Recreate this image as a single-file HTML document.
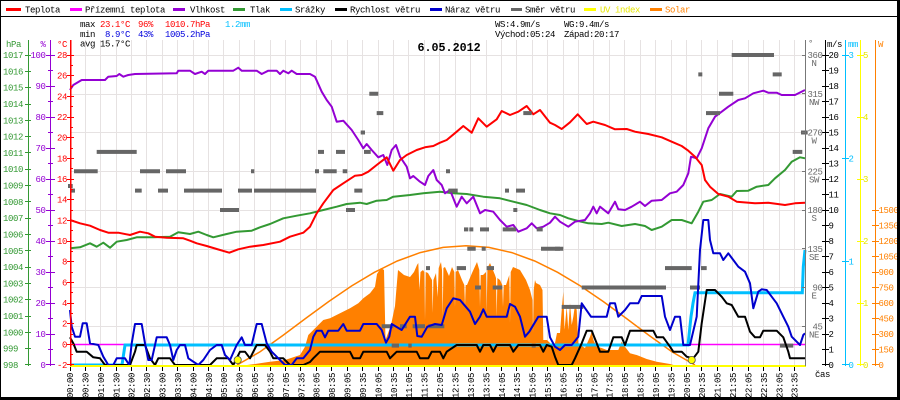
<!DOCTYPE html>
<html><head><meta charset="utf-8"><style>
html,body{margin:0;padding:0;background:#fff}
svg{display:block}
text{font-family:"Liberation Mono",monospace;font-size:9px;letter-spacing:-0.4px}
.b{font-weight:bold;font-size:11.7px;letter-spacing:0}
</style></head><body>
<svg width="900" height="400" viewBox="0 0 900 400" xmlns="http://www.w3.org/2000/svg">
<rect width="900" height="400" fill="#fff"/>
<!-- grid -->
<g stroke="#e6e2e2" stroke-width="1" shape-rendering="crispEdges">
<path d="M85.5 40V365M100.5 40V365M116.5 40V365M131.5 40V365M146.5 40V365M162.5 40V365M177.5 40V365M193.5 40V365M208.5 40V365M223.5 40V365M239.5 40V365M254.5 40V365M270.5 40V365M285.5 40V365M300.5 40V365M316.5 40V365M331.5 40V365M347.5 40V365M362.5 40V365M378.5 40V365M393.5 40V365M408.5 40V365M424.5 40V365M439.5 40V365M455.5 40V365M470.5 40V365M486.5 40V365M501.5 40V365M516.5 40V365M532.5 40V365M547.5 40V365M563.5 40V365M578.5 40V365M593.5 40V365M609.5 40V365M624.5 40V365M640.5 40V365M655.5 40V365M671.5 40V365M686.5 40V365M701.5 40V365M717.5 40V365M732.5 40V365M748.5 40V365M763.5 40V365M779.5 40V365M794.5 40V365"/>
<path d="M70 55.5H806M70 94.5H806M70 132.5H806M70 171.5H806M70 210.5H806M70 249.5H806M70 287.5H806M70 326.5H806"/>
</g>
<!-- solar fill -->
<polygon fill="#ff8000" points="238,366 247,365 255,364 270,361.7 285,360 300,355 305,346.7 308.3,335 313.3,330 318.3,325 323.3,320 330,318.3 340,313.3 350,308.3 358.3,303.3 363.3,298.3 370,293.3 375,286.7 377,274 381,268 384,270 385.5,340 391,325 395,306 398,270 404,275 410,277 414,272 417,265 418.3,263 419.5,290 420.5,272 423,270 424.3,272 425,320 425.7,272 428,273 432,280 432.7,313 433.4,280 436,273 437.7,297 438.7,268 441,262 442,270 442.7,317 443.4,268 445,267 449,276 452,267 454.3,272 455,307 455.7,272 458,270 462,280 464.3,285 465,306 465.7,285 467,285 472,273 477,262 479.3,270 480,307 480.7,275 483,275 486,272 486.7,313 487.4,268 490,263 495,275 496,278 496.7,317 497.4,278 500,280 502.3,285 503,307 503.7,285 506,285 509.3,275 510,323 510.7,272 513,267 520,270 526,280 530,290 532.5,300 533,333 533.7,290 535,280 536,283 540,285 542.5,290 543.3,340 547,340 550,343 551.7,348 555,343 557,333 560,333 561.7,310 563.3,291.7 564.5,330 566.7,306.7 568.3,330 570,303 571.7,325 573.3,316.7 575,305 576.7,310 578.3,343 580,345 585,348 590,336.7 591.7,331.7 593.3,340 596.7,346.7 601.7,348 606.7,350 618.3,350 621.7,341.7 625,346.7 630,353.3 636.7,355 646.7,359 656.7,361.7 670,364 677,366"/>
<polyline fill="none" stroke="#ff8000" stroke-width="1.5" points="237,365 259.9,351.9 282.8,335.5 305.7,318.4 328.6,301.6 351.5,286 374.4,272.3 397.3,261 420.2,252.6 443.1,247.4 466,245.7 488.9,247.4 511.8,252.6 534.7,261 557.6,272.3 580.5,286 603.4,301.6 626.3,318.4 649.2,335.5 672.1,351.9 695,365"/>
<!-- magenta & cyan -->
<path d="M70 344.5H805" stroke="#ff00ff" stroke-width="1.5"/>
<polyline fill="none" stroke="#00bfff" stroke-width="3" points="70,365 122,365 125,345 688,345 691,316.7 693,303.3 695,292.7 802.3,292.7 803.3,266.7 805,250"/>
<!-- pressure -->
<polyline fill="none" stroke="#339933" stroke-width="2" stroke-linejoin="round" points="70,248.3 80,247.3 90,243.3 96.7,246.7 103.3,242.7 110,247.7 116.7,241.7 126.7,240 136.7,237.3 153.3,237.3 170,236.7 178.3,232.3 190,234 198.3,231.7 206.7,235 213.3,237.3 226.7,234 236.7,231.7 251.7,230.7 260,227.3 270,224 283.3,218.3 296.7,215.7 310,213.3 323.3,210 336.7,206.7 346.7,204 360,202.7 366.7,204 376.7,200.7 386.7,200 393.3,196.7 410,195 423.3,193.3 440,191.7 453.3,193.3 466.7,194 483.3,196.7 500,198.3 513.3,201.7 526.7,205 540,210 550,213.3 560,215 568.3,218.3 578.3,221 588.3,223.3 601.7,224 608.3,222.7 621.7,226 635,224 645,226 651.7,230 661.7,226.7 671.7,220 681.7,220 691.7,223.3 698.3,211.7 703.3,201.7 711.7,200 720,194 731.7,196.7 736.7,191 748.3,190.7 756.7,186.7 768.3,185 775,178.3 785,170 791.7,161.7 800,157.3 805,158.3"/>
<!-- humidity -->
<polyline fill="none" stroke="#9400d3" stroke-width="2" stroke-linejoin="round" points="70,90 73.3,85 81.7,80 105,80 108.3,76.7 116.7,76 119.3,74 123.3,76.7 128.3,75 135,74 176.7,73.3 178.3,70.7 190,70.7 195,74 201.7,71.7 205,74 208.3,70.7 233.3,70.7 238.3,67.7 241.7,70.7 256.7,70.7 261.7,74 268.3,70.7 276.7,70.7 280,74 283.3,70.7 288.3,73.3 291.7,70.7 296.7,74 310,74 315,76.7 321.7,91.7 326.7,100 331.7,106.7 336.7,121.7 343.3,120.7 351.7,130 358.3,140 363.3,148.3 366.7,144 371.7,150 378.3,157.3 383.3,155 387.3,165 391.7,150 396,145 400,156.7 406.7,166.7 410,178.3 413.3,176 420,181.7 425,185 428.3,176 433.3,170 436.7,180 441.7,185 445,193.3 450,190 456.7,206.7 461.7,196.7 466.7,203.3 473.3,196.7 480,213.3 485,210 493.3,211.7 500,220 506.7,226.7 513.3,225 518.3,231.7 526.7,228.3 531.7,223.3 536.7,228.3 543.3,226.7 550,222.7 555,216.7 560,221.7 568.3,226.7 575,221.7 585,220 590,213.3 593.3,206.7 596.7,213.3 600,206.7 608.3,213.3 615,201.7 618.3,209.3 625,210 631.7,206.7 640,201.7 645,206 651.7,200.7 661.7,200 670,193.3 676.7,191.7 683.3,185 688.3,173.3 691,156.7 696.7,158.3 701.7,148.3 708.3,128.3 715,116.7 721.7,111.7 728.3,106.7 738.3,100 745,98.3 753.3,93.3 763.3,90.7 768.3,92.7 776.7,92.7 781.7,95 795,95 805,90"/>
<!-- temperature -->
<polyline fill="none" stroke="#ff0000" stroke-width="2" stroke-linejoin="round" points="70,220 80,223.3 90,225.7 100,230 108.3,232.7 118.3,232.7 130,235 140,231.7 148.3,233.3 155,236.7 166.7,237.7 183.3,238.3 190,240.7 196.7,243.3 206.7,246 216.7,249 229.3,252.7 238.3,249.3 250,246.7 263.3,245 280,241.7 290,236.7 303.3,232.7 310,226.7 316.7,213.3 323.3,203.3 333.3,190 343.3,183.3 355,175.7 361.7,175 368.3,171.7 376.7,165 386.7,157.3 393.3,170.7 400,160 406.7,155 416.7,150 425,147.3 433.3,146 440,142.7 446.7,140 456.7,131.7 463.3,126 471.7,132.7 478.3,118.3 486.7,126.7 496.7,119.3 501.7,111 510,115 518.3,111.7 526.7,106 533.3,114.3 540,110 550,122.7 555,125 561.7,129 570,122.3 577.7,114.3 586.7,124 593.3,121.7 605,125 615,129.3 626.7,129 635,131.7 648.3,134 661.7,137.3 671.7,141.7 681.7,146 688.3,150.7 695,156.7 701.7,165 705,180 710,186.7 718.3,194 728.3,196.7 736.7,201.7 755,203.3 768.3,202.7 785,205 795,203.3 805,202.7"/>
<!-- wind direction bars -->
<g fill="#666">
<rect x="96.7" y="149.9" width="40" height="4"/><rect x="74" y="169.25" width="23.7" height="4"/><rect x="140" y="169.25" width="20" height="4"/><rect x="166" y="169.25" width="20" height="4"/><rect x="251" y="169.25" width="3.3" height="4"/><rect x="315" y="169.25" width="4" height="4"/><rect x="318" y="149.9" width="6" height="4"/><rect x="70" y="188.6" width="5" height="4"/><rect x="68" y="184" width="4.7" height="4"/><rect x="135" y="188.6" width="6.7" height="4"/><rect x="158" y="188.6" width="10" height="4"/><rect x="184" y="188.6" width="38" height="4"/><rect x="238" y="188.6" width="14" height="4"/><rect x="254" y="188.6" width="62" height="4"/><rect x="220" y="208" width="19" height="4"/>
<rect x="369.3" y="91.75" width="9" height="4"/><rect x="376.7" y="111.1" width="6.6" height="4"/><rect x="360.7" y="130.5" width="4.3" height="4"/><rect x="336" y="149.9" width="9" height="4"/><rect x="364" y="149.9" width="6.7" height="4"/><rect x="323.3" y="169.25" width="13.4" height="4"/><rect x="342.7" y="169.25" width="4.6" height="4"/><rect x="446" y="169.25" width="4" height="4"/><rect x="310" y="188.6" width="6" height="4"/><rect x="354.3" y="188.6" width="8" height="4"/><rect x="448.3" y="188.6" width="9.4" height="4"/><rect x="505" y="188.6" width="4" height="4"/><rect x="516" y="188.6" width="9" height="4"/><rect x="523.3" y="111.1" width="8.4" height="4"/><rect x="346" y="208" width="9" height="4"/><rect x="513.3" y="208" width="4" height="4"/><rect x="464" y="227.4" width="4.3" height="4"/><rect x="469.3" y="227.4" width="4" height="4"/><rect x="480" y="227.4" width="9" height="4"/><rect x="502.7" y="227.4" width="13.3" height="4"/><rect x="536.7" y="227.4" width="6" height="4"/><rect x="467.3" y="246.75" width="8.4" height="4"/><rect x="481.7" y="246.75" width="4" height="4"/><rect x="541" y="246.75" width="19" height="4"/><rect x="426" y="266.1" width="4" height="4"/><rect x="456.7" y="266.1" width="9.3" height="4"/><rect x="486.7" y="266.1" width="7.3" height="4"/><rect x="475" y="285.5" width="6" height="4"/><rect x="492.7" y="285.5" width="9.6" height="4"/><rect x="381.7" y="324.25" width="11.6" height="4"/><rect x="400" y="324.25" width="6.7" height="4"/><rect x="412.7" y="324.25" width="12.3" height="4"/><rect x="428.3" y="324.25" width="16" height="4"/><rect x="391.7" y="343.6" width="7.3" height="4"/><rect x="408.3" y="343.6" width="3.4" height="4"/><rect x="531.7" y="343.6" width="4" height="4"/>
<rect x="731.7" y="53" width="42.3" height="4"/><rect x="698.3" y="72.4" width="4" height="4"/><rect x="772.7" y="72.4" width="9" height="4"/><rect x="719" y="91.75" width="14.3" height="4"/><rect x="706" y="111.1" width="14" height="4"/><rect x="801" y="130.5" width="6.7" height="4"/><rect x="792.7" y="149.9" width="9.6" height="4"/><rect x="555" y="246.75" width="8.3" height="4"/><rect x="665" y="266.1" width="26.7" height="4"/><rect x="701" y="266.1" width="5.7" height="4"/><rect x="581.7" y="285.5" width="84.3" height="4"/><rect x="690" y="285.5" width="10" height="4"/><rect x="561.7" y="304.9" width="21.6" height="4"/><rect x="780" y="343.6" width="13.3" height="4"/>
</g>
<!-- wind speed -->
<polyline fill="none" stroke="#000" stroke-width="2" stroke-linejoin="round" points="70,337.3 73.3,343.3 76.7,351.7 86.7,351.7 93.3,357.3 100,358.3 105,365 130,365 135,351.7 136.7,345 145,345 150,358.3 155,365 158.3,358.3 170,358.3 175,365 210,365 216.7,358.3 228.3,358.3 233.3,365 240,351.7 245,351.7 250,358.3 256.7,345 265,345 270,351.7 273.3,358.3 283.3,358.3 290,365 303.3,365 310,362 313.3,358.3 320,351.7 350,351.7 353.3,358.3 360,358.3 363.3,351.7 386.7,351.7 390,358.3 396.7,351.7 416.7,351.7 420,358.3 428.3,358.3 431.7,351.7 440,351.7 443.3,358.3 446.7,351.7 456.7,345 476.7,345 480,351.7 483.3,345 490,345 493.3,351.7 496.7,345 510,345 513.3,351.7 518.3,345 540,345 543.3,351.7 546.7,345 551.7,346.7 555,356.7 558.3,365 571.7,365 575,358.3 581.7,343.3 586.7,330.7 591.7,330.7 596.7,343.3 600,351.7 608.3,351.7 613.3,337.3 621.7,337.3 625,345 630,330.7 653.3,330.7 656.7,337.3 663.3,337.3 670,346.7 673.3,351.7 681.7,351.7 686.7,356.7 693.3,358.3 698.3,351.7 701.7,323.3 706.7,290 715,290 721.7,296.7 726.7,303.3 731.7,305 738.3,316.7 745,316.7 750,331.7 755,337.3 760,337.3 763.3,330.7 776.7,330.7 783.3,337.3 788.3,351.7 790,358.3 805,358.3"/>
<!-- gust -->
<polyline fill="none" stroke="#0000cd" stroke-width="2" stroke-linejoin="round" points="70,310 71.7,326.7 75,336.7 80,336.7 82.7,323.3 86.7,323.3 90,343.3 98.3,345 103.3,356.7 108.3,365 113.3,365 116.7,358.3 125,358.3 129.3,365 131.7,343.3 135,324 141.7,324 145,343.3 148.3,360 151.7,360 156.7,337.3 166.7,337.3 170,345 173.3,360 176.7,350 180,345 185,345 188.3,358.3 198.3,365 203.3,360 210,350 216.7,345 221.7,345 225,355 230,360 236.7,345 241.7,337.3 245,345 251.7,345 256.7,324 261.7,324 266.7,343.3 271.7,351.7 278.3,358.3 285,365 291.7,365 296.7,358.3 303.3,358.3 310,350 313.3,336.7 316.7,330.7 321.7,330.7 325,337.3 328.3,330.7 338.3,330.7 343.3,324 346.7,330.7 360,330.7 363.3,324 376.7,324 381.7,330 386,342.7 389.3,336.7 391.7,324 401.7,330 410,316.7 415,316.7 417.3,336 421.7,336.7 427.3,326.7 435,324 441.7,325 446.7,308.3 453.3,298.3 460,300 470,311.7 475,324 480,316.7 483.3,309.3 486.7,316.7 506.7,316.7 510,304 515,306.7 520,316.7 525,336.7 529.3,331.7 538.3,316.7 546.7,316.7 550,337.3 555,346.7 560,350 565,345 571.7,345 578.3,336.7 581.7,303.3 591,316.7 606.7,316.7 610,303.3 615,303.3 618.3,316.7 625,310 630,303.3 638.3,303.3 641.7,296 661.7,296 665,316.7 670,330 675,316.7 680,316.7 683.3,345 690,345 696.7,316.7 700,250 703.3,220 708.3,220 710,240 713.3,253.3 720,253.3 723.3,260 728.3,253.3 733.3,260 738.3,266.7 745,271.7 750,283.3 753.3,308.3 758.3,291.7 761.7,289.3 766.7,290 771.7,296.7 776.7,303.3 783.3,316.7 788.3,326.7 791.7,336.7 800,345 803.3,335 805,333.3"/>
<!-- UV baseline & sun markers -->
<rect x="70" y="365" width="736" height="2" fill="#ffff00"/>
<circle cx="237.7" cy="360" r="3.6" fill="#ffff00" stroke="#555" stroke-width="0.8"/>
<circle cx="691.7" cy="360" r="3.6" fill="#ffff00" stroke="#555" stroke-width="0.8"/>
<!-- left axes -->
<g shape-rendering="crispEdges">
<path d="M28.5 40V366" stroke="#339933"/>
<path d="M25 55.5h6M25 71.5h6M25 87.5h6M25 104.5h6M25 120.5h6M25 136.5h6M25 152.5h6M25 169.5h6M25 185.5h6M25 201.5h6M25 218.5h6M25 234.5h6M25 250.5h6M25 267.5h6M25 283.5h6M25 299.5h6M25 316.5h6M25 332.5h6M25 348.5h6M25 364.5h6" stroke="#339933"/>
<path d="M50.5 40V366" stroke="#9400d3"/>
<path d="M46 55.5h9M46 86.5h9M46 117.5h9M46 148.5h9M46 179.5h9M46 210.5h9M46 241.5h9M46 272.5h9M46 303.5h9M46 334.5h9M46 364.5h9M48 70.5h5M48 101.5h5M48 132.5h5M48 163.5h5M48 194.5h5M48 225.5h5M48 256.5h5M48 287.5h5M48 318.5h5M48 349.5h5" stroke="#9400d3"/>
<path d="M70.5 40V366" stroke="#ff0000" stroke-width="1.5"/>
<path d="M67 55.5h7M67 75.5h7M67 96.5h7M67 117.5h7M67 137.5h7M67 158.5h7M67 179.5h7M67 199.5h7M67 220.5h7M67 241.5h7M67 261.5h7M67 282.5h7M67 303.5h7M67 323.5h7M67 344.5h7M67 364.5h7M70 65.5h3M70 86.5h3M70 106.5h3M70 127.5h3M70 148.5h3M70 168.5h3M70 189.5h3M70 210.5h3M70 230.5h3M70 251.5h3M70 272.5h3M70 292.5h3M70 313.5h3M70 334.5h3M70 354.5h3" stroke="#ff0000"/>
</g>
<g fill="#339933">
<text x="6" y="47">hPa</text>
<text x="3" y="58">1017</text><text x="3" y="74.3">1016</text><text x="3" y="90.6">1015</text><text x="3" y="107">1014</text><text x="3" y="123.3">1013</text><text x="3" y="139.6">1012</text><text x="3" y="155.9">1011</text><text x="3" y="172.2">1010</text><text x="3" y="188.5">1009</text><text x="3" y="204.8">1008</text><text x="3" y="221.2">1007</text><text x="3" y="237.5">1006</text><text x="3" y="253.8">1005</text><text x="3" y="270.1">1004</text><text x="3" y="286.4">1003</text><text x="3" y="302.7">1002</text><text x="3" y="319.1">1001</text><text x="3" y="335.4">1000</text><text x="3" y="351.7">999</text><text x="3" y="368">998</text>
</g>
<g fill="#9400d3" text-anchor="end">
<text x="45.5" y="47">%</text>
<text x="45.5" y="58">100</text><text x="45.5" y="89">90</text><text x="45.5" y="120">80</text><text x="45.5" y="151">70</text><text x="45.5" y="182">60</text><text x="45.5" y="213">50</text><text x="45.5" y="244">40</text><text x="45.5" y="275">30</text><text x="45.5" y="306">20</text><text x="45.5" y="337">10</text><text x="45.5" y="368">0</text>
</g>
<g fill="#ff0000" text-anchor="end">
<text x="67" y="47">°C</text>
<text x="67" y="58">28</text><text x="67" y="78.7">26</text><text x="67" y="99.3">24</text><text x="67" y="120">22</text><text x="67" y="140.7">20</text><text x="67" y="161.3">18</text><text x="67" y="182">16</text><text x="67" y="202.7">14</text><text x="67" y="223.3">12</text><text x="67" y="244">10</text><text x="67" y="264.7">8</text><text x="67" y="285.3">6</text><text x="67" y="306">4</text><text x="67" y="326.7">2</text><text x="67" y="347.3">0</text><text x="67" y="368">-2</text>
</g>
<!-- right axes -->
<g shape-rendering="crispEdges">
<path d="M805.5 40V366" stroke="#777"/>
<path d="M802 55.5h4M802 93.5h4M802 132.5h4M802 171.5h4M802 210.5h4M802 248.5h4M802 287.5h4M802 326.5h4" stroke="#777"/>
<path d="M825.5 40V366" stroke="#000"/>
<path d="M822 55.5h7M822 70.5h7M822 86.5h7M822 101.5h7M822 117.5h7M822 132.5h7M822 148.5h7M822 163.5h7M822 179.5h7M822 194.5h7M822 210.5h7M822 225.5h7M822 241.5h7M822 256.5h7M822 272.5h7M822 287.5h7M822 303.5h7M822 318.5h7M822 334.5h7M822 349.5h7M822 364.5h7" stroke="#000"/>
<path d="M845.5 40V366" stroke="#00bfff"/>
<path d="M842 55.5h7M842 158.5h7M842 261.5h7M842 364.5h7" stroke="#00bfff"/>
<path d="M860.5 40V366" stroke="#ffff00"/>
<path d="M857 55.5h7M857 117.5h7M857 179.5h7M857 241.5h7M857 303.5h7M857 364.5h7" stroke="#ffff00"/>
<path d="M875.5 40V366" stroke="#ff8000"/>
<path d="M872 210.5h7M872 225.5h7M872 241.5h7M872 256.5h7M872 272.5h7M872 287.5h7M872 303.5h7M872 318.5h7M872 334.5h7M872 349.5h7M872 364.5h7" stroke="#ff8000"/>
</g>
<g fill="#666">
<text x="808" y="46">°</text>
<g text-anchor="end"><text x="822.5" y="58">360</text><text x="822.5" y="96.8">315</text><text x="822.5" y="135.5">270</text><text x="822.5" y="174.3">225</text><text x="822.5" y="213">180</text><text x="822.5" y="251.8">135</text><text x="822.5" y="290.5">90</text><text x="822.5" y="329.3">45</text></g>
<g text-anchor="middle"><text x="814" y="66">N</text><text x="814" y="104.8">NW</text><text x="814" y="143.5">W</text><text x="814" y="182.3">SW</text><text x="814" y="221">S</text><text x="814" y="259.8">SE</text><text x="814" y="298.5">E</text><text x="814" y="337.3">NE</text></g>
</g>
<g fill="#000">
<text x="827" y="47">m/s</text>
<text x="828.5" y="58">20</text><text x="828.5" y="73.5">19</text><text x="828.5" y="89">18</text><text x="828.5" y="104.5">17</text><text x="828.5" y="120">16</text><text x="828.5" y="135.5">15</text><text x="828.5" y="151">14</text><text x="828.5" y="166.5">13</text><text x="828.5" y="182">12</text><text x="828.5" y="197.5">11</text><text x="828.5" y="213">10</text><text x="828.5" y="228.5">9</text><text x="828.5" y="244">8</text><text x="828.5" y="259.5">7</text><text x="828.5" y="275">6</text><text x="828.5" y="290.5">5</text><text x="828.5" y="306">4</text><text x="828.5" y="321.5">3</text><text x="828.5" y="337">2</text><text x="828.5" y="352.5">1</text><text x="828.5" y="368">0</text>
<text x="815" y="377">čas</text>
</g>
<g fill="#00bfff">
<text x="848" y="47">mm</text>
<text x="848.5" y="58">3</text><text x="848.5" y="161.3">2</text><text x="848.5" y="264.7">1</text><text x="848.5" y="368">0</text>
</g>
<g fill="#e6e600">
<text x="863" y="58">5</text><text x="863" y="120">4</text><text x="863" y="182">3</text><text x="863" y="244">2</text><text x="863" y="306">1</text><text x="863" y="368">0</text>
</g>
<g fill="#ff8000">
<text x="878" y="47">W</text>
<text x="878.5" y="213">1500</text><text x="878.5" y="228.5">1350</text><text x="878.5" y="244">1200</text><text x="878.5" y="259.5">1050</text><text x="878.5" y="275">900</text><text x="878.5" y="290.5">750</text><text x="878.5" y="306">600</text><text x="878.5" y="321.5">450</text><text x="878.5" y="337">300</text><text x="878.5" y="352.5">150</text><text x="878.5" y="368">0</text>
</g>
<!-- bottom ticks -->
<path shape-rendering="crispEdges" stroke="#000" d="M70.5 367V371M85.5 367V371M100.5 367V371M116.5 367V371M131.5 367V371M146.5 367V371M162.5 367V371M177.5 367V371M193.5 367V371M208.5 367V371M223.5 367V371M239.5 367V371M254.5 367V371M270.5 367V371M285.5 367V371M300.5 367V371M316.5 367V371M331.5 367V371M347.5 367V371M362.5 367V371M378.5 367V371M393.5 367V371M408.5 367V371M424.5 367V371M439.5 367V371M455.5 367V371M470.5 367V371M486.5 367V371M501.5 367V371M516.5 367V371M532.5 367V371M547.5 367V371M563.5 367V371M578.5 367V371M593.5 367V371M609.5 367V371M624.5 367V371M640.5 367V371M655.5 367V371M671.5 367V371M686.5 367V371M701.5 367V371M717.5 367V371M732.5 367V371M748.5 367V371M763.5 367V371M779.5 367V371M794.5 367V371"/>
<g fill="#000">
<text transform="translate(73,398) rotate(-90)">00:00</text>
<text transform="translate(88.4,398) rotate(-90)">00:30</text>
<text transform="translate(103.8,398) rotate(-90)">01:00</text>
<text transform="translate(119.3,398) rotate(-90)">01:30</text>
<text transform="translate(134.7,398) rotate(-90)">02:00</text>
<text transform="translate(150.1,398) rotate(-90)">02:30</text>
<text transform="translate(165.5,398) rotate(-90)">03:00</text>
<text transform="translate(180.9,398) rotate(-90)">03:30</text>
<text transform="translate(196.4,398) rotate(-90)">04:00</text>
<text transform="translate(211.8,398) rotate(-90)">04:30</text>
<text transform="translate(227.2,398) rotate(-90)">05:00</text>
<text transform="translate(242.6,398) rotate(-90)">05:30</text>
<text transform="translate(258,398) rotate(-90)">06:05</text>
<text transform="translate(273.5,398) rotate(-90)">06:35</text>
<text transform="translate(288.9,398) rotate(-90)">07:05</text>
<text transform="translate(304.3,398) rotate(-90)">07:35</text>
<text transform="translate(319.7,398) rotate(-90)">08:05</text>
<text transform="translate(335.1,398) rotate(-90)">08:35</text>
<text transform="translate(350.6,398) rotate(-90)">09:05</text>
<text transform="translate(366,398) rotate(-90)">09:35</text>
<text transform="translate(381.4,398) rotate(-90)">10:05</text>
<text transform="translate(396.8,398) rotate(-90)">10:35</text>
<text transform="translate(412.2,398) rotate(-90)">11:05</text>
<text transform="translate(427.7,398) rotate(-90)">11:35</text>
<text transform="translate(443.1,398) rotate(-90)">12:05</text>
<text transform="translate(458.5,398) rotate(-90)">12:35</text>
<text transform="translate(473.9,398) rotate(-90)">13:05</text>
<text transform="translate(489.3,398) rotate(-90)">13:35</text>
<text transform="translate(504.8,398) rotate(-90)">14:05</text>
<text transform="translate(520.2,398) rotate(-90)">14:35</text>
<text transform="translate(535.6,398) rotate(-90)">15:05</text>
<text transform="translate(551,398) rotate(-90)">15:35</text>
<text transform="translate(566.4,398) rotate(-90)">16:05</text>
<text transform="translate(581.9,398) rotate(-90)">16:35</text>
<text transform="translate(597.3,398) rotate(-90)">17:05</text>
<text transform="translate(612.7,398) rotate(-90)">17:35</text>
<text transform="translate(628.1,398) rotate(-90)">18:05</text>
<text transform="translate(643.5,398) rotate(-90)">18:35</text>
<text transform="translate(659,398) rotate(-90)">19:05</text>
<text transform="translate(674.4,398) rotate(-90)">19:35</text>
<text transform="translate(689.8,398) rotate(-90)">20:05</text>
<text transform="translate(705.2,398) rotate(-90)">20:35</text>
<text transform="translate(720.6,398) rotate(-90)">21:05</text>
<text transform="translate(736.1,398) rotate(-90)">21:35</text>
<text transform="translate(751.5,398) rotate(-90)">22:05</text>
<text transform="translate(766.9,398) rotate(-90)">22:35</text>
<text transform="translate(782.3,398) rotate(-90)">23:05</text>
<text transform="translate(797.7,398) rotate(-90)">23:35</text>
</g>
<!-- legend -->
<rect x="6" y="8" width="15" height="3" fill="#ff0000"/><text x="25" y="12.5">Teplota</text>
<rect x="70" y="8" width="12" height="3" fill="#ff00ff"/><text x="85" y="12.5">Přízemní teplota</text>
<rect x="173" y="8" width="12" height="3" fill="#9400d3"/><text x="190" y="12.5">Vlhkost</text>
<rect x="233" y="8" width="12" height="3" fill="#339933"/><text x="250" y="12.5">Tlak</text>
<rect x="280" y="8" width="12" height="3" fill="#00bfff"/><text x="295" y="12.5">Srážky</text>
<rect x="335" y="8" width="12" height="3" fill="#000"/><text x="350" y="12.5">Rychlost větru</text>
<rect x="430" y="8" width="12" height="3" fill="#0000cd"/><text x="445" y="12.5">Náraz větru</text>
<rect x="511" y="8" width="11" height="3" fill="#666"/><text x="525" y="12.5">Směr větru</text>
<rect x="584" y="8" width="12" height="3" fill="#ffff00"/><text x="600" y="12.5" fill="#e6e600">UV index</text>
<rect x="650" y="8" width="12" height="3" fill="#ff8000"/><text x="665" y="12.5" fill="#ff8000">Solar</text>
<!-- stats -->
<text x="80" y="27">max</text><text x="100" y="27" fill="#f00">23.1°C</text><text x="138" y="27" fill="#f00">96%</text><text x="165" y="27" fill="#f00">1010.7hPa</text><text x="225" y="27" fill="#00bfff">1.2mm</text>
<text x="80" y="37">min</text><text x="105" y="37" fill="#0000dd">8.9°C</text><text x="138" y="37" fill="#0000dd">43%</text><text x="165" y="37" fill="#0000dd">1005.2hPa</text>
<text x="80" y="46.5">avg 15.7°C</text>
<text x="495" y="27">WS:4.9m/s</text><text x="564" y="27">WG:9.4m/s</text>
<text x="495" y="37">Východ:05:24</text><text x="564" y="37">Západ:20:17</text>
<text class="b" x="417.5" y="51">6.05.2012</text>
<!-- frame -->
<rect x="0" y="0" width="897" height="1" fill="#000"/>
<rect x="0" y="0" width="1" height="397" fill="#000"/>
<rect x="0" y="16" width="897" height="1" fill="#000"/>
<rect x="897" y="0" width="3" height="400" fill="#000"/>
<rect x="0" y="397" width="900" height="3" fill="#000"/>
</svg>
</body></html>
